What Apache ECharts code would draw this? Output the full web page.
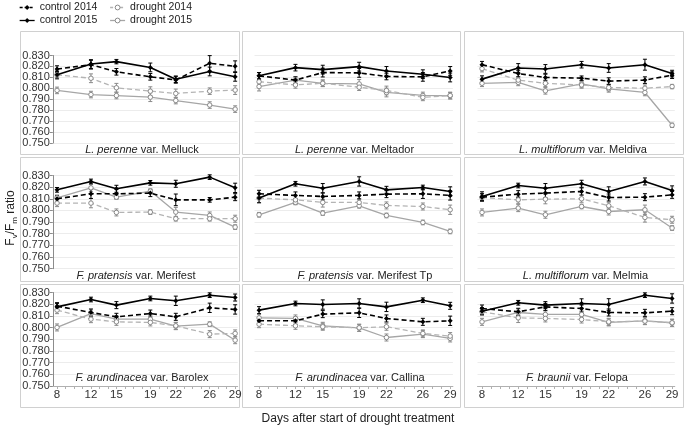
<!DOCTYPE html>
<html>
<head>
<meta charset="utf-8">
<script src="https://cdn.jsdelivr.net/npm/echarts@6/dist/echarts.min.js"></script>
<style>html,body{margin:0;padding:0;background:#fff}#c{width:685px;height:425px}</style>
</head>
<body>
<div id="c"></div>
<script>
// ---------- DATA ----------
const days = [8, 12, 15, 19, 22, 26, 29];
const xLabelDays = [8, 12, 15, 19, 22, 26, 29];
const xTickDays = [8, 9, 10, 11, 12, 13, 14, 15, 16, 17, 18, 19, 20, 21, 22, 23, 24, 25, 26, 27, 28, 29];
const seriesNames = ['control 2014', 'drought 2014', 'control 2015', 'drought 2015'];
const panelSpecies = ['L. perenne', 'L. perenne', 'L. multiflorum', 'F. pratensis', 'F. pratensis', 'L. multiflorum', 'F. arundinacea', 'F. arundinacea', 'F. braunii'];
const panelVarieties = ['Melluck', 'Meltador', 'Meldiva', 'Merifest', 'Merifest Tp', 'Melmia', 'Barolex', 'Callina', 'Felopa'];
const yTickLabels = ['0.750', '0.760', '0.770', '0.780', '0.790', '0.800', '0.810', '0.820', '0.830'];

// panels in order: Melluck, Meltador, Meldiva, Merifest, Merifest Tp, Melmia, Barolex, Callina, Felopa
const control2014 = [
  [0.8176, 0.8216, 0.8151, 0.8105, 0.8077, 0.8229, 0.8201],
  [0.8114, 0.8075, 0.8144, 0.8141, 0.8108, 0.8105, 0.8159],
  [0.8216, 0.8135, 0.8099, 0.8093, 0.8066, 0.8075, 0.8120],
  [0.8100, 0.8143, 0.8143, 0.8149, 0.8091, 0.8091, 0.8114],
  [0.8143, 0.8129, 0.8120, 0.8129, 0.8140, 0.8143, 0.8129],
  [0.8114, 0.8140, 0.8149, 0.8163, 0.8111, 0.8114, 0.8134],
  [0.8183, 0.8129, 0.8092, 0.8120, 0.8092, 0.8169, 0.8155],
  [0.8058, 0.8058, 0.8115, 0.8126, 0.8078, 0.8049, 0.8058],
  [0.8163, 0.8135, 0.8177, 0.8163, 0.8129, 0.8126, 0.8140]
];
const control2015 = [
  [0.8123, 0.8222, 0.8244, 0.8191, 0.8083, 0.8154, 0.8105],
  [0.8114, 0.8189, 0.8171, 0.8198, 0.8159, 0.8129, 0.8099],
  [0.8084, 0.8186, 0.8177, 0.8216, 0.8186, 0.8216, 0.8135],
  [0.8177, 0.8249, 0.8186, 0.8237, 0.8229, 0.8286, 0.8194],
  [0.8106, 0.8229, 0.8191, 0.8249, 0.8177, 0.8197, 0.8163],
  [0.8120, 0.8214, 0.8191, 0.8229, 0.8163, 0.8249, 0.8171],
  [0.8177, 0.8240, 0.8192, 0.8249, 0.8229, 0.8277, 0.8257],
  [0.8149, 0.8206, 0.8197, 0.8206, 0.8177, 0.8234, 0.8186],
  [0.8140, 0.8212, 0.8192, 0.8206, 0.8197, 0.8277, 0.8249]
];
const drought2014 = [
  [0.8123, 0.8092, 0.8005, 0.7974, 0.7953, 0.7974, 0.7984],
  [0.8060, 0.8031, 0.8046, 0.8010, 0.7980, 0.7917, 0.7935],
  [0.8180, 0.8075, 0.8046, 0.8031, 0.8007, 0.8001, 0.8016],
  [0.8063, 0.8063, 0.7983, 0.7986, 0.7929, 0.7929, 0.7929],
  [0.8106, 0.8091, 0.8069, 0.8069, 0.8043, 0.8034, 0.8006],
  [0.8111, 0.8091, 0.8097, 0.8100, 0.8040, 0.7940, 0.7920],
  [0.8149, 0.8072, 0.8049, 0.8044, 0.8015, 0.7944, 0.7950],
  [0.8029, 0.8015, 0.8007, 0.7998, 0.8007, 0.7950, 0.7927],
  [0.8135, 0.8083, 0.8078, 0.8069, 0.8049, 0.8055, 0.8041]
];
const drought2015 = [
  [0.7981, 0.7943, 0.7934, 0.7919, 0.7888, 0.7847, 0.7810],
  [0.8016, 0.8075, 0.8046, 0.8040, 0.7962, 0.7935, 0.7932],
  [0.8046, 0.8054, 0.7977, 0.8040, 0.7995, 0.7962, 0.7662],
  [0.8109, 0.8194, 0.8114, 0.8166, 0.7986, 0.7957, 0.7857],
  [0.7963, 0.8069, 0.7977, 0.8040, 0.7957, 0.7897, 0.7820],
  [0.7983, 0.8020, 0.7963, 0.8034, 0.7991, 0.8006, 0.7849],
  [0.8001, 0.8120, 0.8072, 0.8072, 0.8012, 0.8029, 0.7892],
  [0.8083, 0.8078, 0.8015, 0.7998, 0.7915, 0.7944, 0.7907],
  [0.8049, 0.8129, 0.8112, 0.8112, 0.8044, 0.8058, 0.8041]
];
// standard errors (estimated)
const control2014Err = [
  [0.003, 0.004, 0.003, 0.003, 0.003, 0.007, 0.005],
  [0.003, 0.003, 0.004, 0.004, 0.003, 0.004, 0.004],
  [0.003, 0.003, 0.003, 0.002, 0.003, 0.003, 0.003],
  [0.003, 0.004, 0.004, 0.003, 0.005, 0.002, 0.003],
  [0.003, 0.003, 0.003, 0.003, 0.003, 0.004, 0.004],
  [0.003, 0.003, 0.004, 0.003, 0.003, 0.003, 0.003],
  [0.003, 0.003, 0.003, 0.003, 0.003, 0.004, 0.004],
  [0.003, 0.003, 0.003, 0.004, 0.003, 0.003, 0.004],
  [0.003, 0.003, 0.003, 0.003, 0.003, 0.003, 0.003]
];
const control2015Err = [
  [0.003, 0.004, 0.002, 0.004, 0.003, 0.004, 0.004],
  [0.003, 0.003, 0.004, 0.004, 0.004, 0.004, 0.004],
  [0.003, 0.004, 0.004, 0.003, 0.004, 0.005, 0.003],
  [0.002, 0.002, 0.003, 0.002, 0.003, 0.002, 0.004],
  [0.004, 0.002, 0.004, 0.004, 0.003, 0.002, 0.004],
  [0.004, 0.002, 0.004, 0.003, 0.004, 0.003, 0.004],
  [0.003, 0.002, 0.003, 0.002, 0.004, 0.002, 0.003],
  [0.003, 0.002, 0.004, 0.004, 0.004, 0.002, 0.003],
  [0.003, 0.002, 0.003, 0.004, 0.005, 0.002, 0.004]
];
const drought2014Err = [
  [0.004, 0.004, 0.004, 0.004, 0.004, 0.003, 0.004],
  [0.003, 0.003, 0.003, 0.003, 0.004, 0.003, 0.003],
  [0.003, 0.003, 0.003, 0.003, 0.003, 0.003, 0.002],
  [0.003, 0.004, 0.003, 0.002, 0.002, 0.002, 0.003],
  [0.004, 0.004, 0.004, 0.003, 0.003, 0.003, 0.004],
  [0.003, 0.003, 0.004, 0.003, 0.003, 0.004, 0.003],
  [0.003, 0.003, 0.003, 0.003, 0.003, 0.003, 0.003],
  [0.003, 0.003, 0.003, 0.003, 0.003, 0.003, 0.003],
  [0.003, 0.004, 0.003, 0.003, 0.003, 0.003, 0.003]
];
const drought2015Err = [
  [0.003, 0.003, 0.003, 0.004, 0.003, 0.003, 0.003],
  [0.004, 0.003, 0.003, 0.004, 0.004, 0.003, 0.003],
  [0.003, 0.003, 0.003, 0.003, 0.003, 0.003, 0.002],
  [0.002, 0.003, 0.002, 0.002, 0.004, 0.003, 0.002],
  [0.002, 0.002, 0.002, 0.002, 0.002, 0.002, 0.002],
  [0.003, 0.003, 0.003, 0.002, 0.003, 0.004, 0.002],
  [0.003, 0.003, 0.003, 0.003, 0.003, 0.002, 0.003],
  [0.003, 0.003, 0.003, 0.003, 0.003, 0.003, 0.003],
  [0.003, 0.003, 0.003, 0.003, 0.003, 0.003, 0.003]
];

// ---------- LAYOUT ----------
const FONT = 'Liberation Sans, Arial, sans-serif';
const colBox = [{left: 52.8, width: 184.9}, {left: 254.5, width: 198.4}, {left: 477.5, width: 197.3}];
const rowBox = [{top: 55.5, height: 87.5}, {top: 175.5, height: 93.2}, {top: 292.5, height: 93.5}];
const frameX = [[20.5, 219], [242.5, 218], [464.5, 219]];
const frameY = [[31.5, 123], [157.5, 124], [284.5, 123]];
const titlePos = [[142, 150], [354.5, 150], [583, 150], [136, 275.5], [365, 276], [585.5, 276], [142, 378], [360, 378], [577, 378]];

const styles = {
  'control 2014': {color: '#000000', type: [5, 3], width: 1.6, symbol: 'diamond', size: 5, fill: '#000000', border: '#000000', err: '#000000'},
  'drought 2014': {color: '#b4b4b4', type: [5, 3], width: 1.3, symbol: 'circle', size: 4.5, fill: '#ffffff', border: '#8a8a8a', err: '#8a8a8a'},
  'control 2015': {color: '#000000', type: 'solid', width: 1.6, symbol: 'diamond', size: 5, fill: '#000000', border: '#000000', err: '#000000'},
  'drought 2015': {color: '#a6a6a6', type: 'solid', width: 1.3, symbol: 'circle', size: 4.5, fill: '#ffffff', border: '#8a8a8a', err: '#8a8a8a'}
};
const valueSets = {'control 2014': control2014, 'drought 2014': drought2014, 'control 2015': control2015, 'drought 2015': drought2015};
const errSets = {'control 2014': control2014Err, 'drought 2014': drought2014Err, 'control 2015': control2015Err, 'drought 2015': drought2015Err};

const grids = [], xAxes = [], yAxes = [], series = [], graphics = [];

function errRenderer(color) {
  return function (params, api) {
    const x = api.value(0), y = api.value(1), e = api.value(2);
    const hi = api.coord([x, y + e]), lo = api.coord([x, y - e]);
    const c = 2, st = {stroke: color, lineWidth: 1};
    return {type: 'group', children: [
      {type: 'line', shape: {x1: hi[0], y1: hi[1], x2: lo[0], y2: lo[1]}, style: st},
      {type: 'line', shape: {x1: hi[0] - c, y1: hi[1], x2: hi[0] + c, y2: hi[1]}, style: st},
      {type: 'line', shape: {x1: lo[0] - c, y1: lo[1], x2: lo[0] + c, y2: lo[1]}, style: st}
    ]};
  };
}

for (let p = 0; p < 9; p++) {
  const r = Math.floor(p / 3), c = p % 3;
  grids.push({left: colBox[c].left, width: colBox[c].width, top: rowBox[r].top, height: rowBox[r].height, containLabel: false});
  const bottomRow = r === 2;
  xAxes.push({
    type: 'value', gridIndex: p, min: 7.5, max: 29.3,
    axisLine: {show: bottomRow, lineStyle: {color: '#b0b0b0', width: 1}},
    axisTick: {show: bottomRow, customValues: xTickDays, length: 3, lineStyle: {color: '#b0b0b0'}},
    axisLabel: {show: bottomRow, customValues: xLabelDays, fontFamily: FONT, fontSize: 11.5, color: '#333', margin: 3},
    splitLine: {show: false}
  });
  yAxes.push({
    type: 'value', gridIndex: p, min: 0.75, max: 0.83, interval: 0.01,
    axisLine: {show: c === 0, lineStyle: {color: '#8c8c8c', width: 1}},
    axisTick: {show: c === 0, length: 3, lineStyle: {color: '#8c8c8c'}},
    axisLabel: {show: c === 0, fontFamily: FONT, fontSize: 11, color: '#333', margin: 3,
      formatter: function (v) { return yTickLabels[Math.round((v - 0.75) * 100)] || ''; }},
    splitLine: {show: true, lineStyle: {color: '#ececec', width: 1}}
  });
  ['drought 2015', 'drought 2014', 'control 2015', 'control 2014'].forEach(function (name, k) {
    const s = styles[name];
    const vals = valueSets[name][p], errs = errSets[name][p];
    series.push({
      type: 'custom', name: name + ' err', xAxisIndex: p, yAxisIndex: p, z: 1 + k, silent: true,
      renderItem: errRenderer(s.err),
      data: days.map(function (d, i) { return [d, vals[i], errs[i]]; })
    });
    series.push({
      type: 'line', name: name, xAxisIndex: p, yAxisIndex: p, z: 5 + k,
      data: days.map(function (d, i) { return [d, vals[i]]; }),
      symbol: s.symbol, symbolSize: s.size, showSymbol: true,
      lineStyle: {color: s.color, type: s.type, width: s.width},
      itemStyle: {color: s.fill, borderColor: s.border, borderWidth: s.symbol === 'circle' ? 1 : 0},
      emphasis: {disabled: true}, animation: false
    });
  });
  graphics.push({
    type: 'rect', z: 0, silent: true,
    shape: {x: frameX[c][0], y: frameY[r][0], width: frameX[c][1], height: frameY[r][1]},
    style: {fill: 'none', stroke: '#d0d0d0', lineWidth: 1}
  });
  graphics.push({
    type: 'text', z: 100, x: titlePos[p][0], y: titlePos[p][1],
    style: {
      text: '{i|' + panelSpecies[p] + '}{n| var. ' + panelVarieties[p] + '}',
      rich: {
        i: {fontStyle: 'italic', fontSize: 11, fontFamily: FONT, fill: '#222'},
        n: {fontSize: 11, fontFamily: FONT, fill: '#222'}
      },
      align: 'center', verticalAlign: 'middle'
    }
  });
}

graphics.push({
  type: 'text', x: 358, y: 418.5,
  style: {text: 'Days after start of drought treatment', font: '12px ' + FONT, fill: '#222', align: 'center', verticalAlign: 'middle'}
});
graphics.push({
  type: 'text', x: 11, y: 218, rotation: Math.PI / 2,
  style: {
    text: '{a|F}{b|v}{a|/F}{b|m}{a| ratio}',
    rich: {
      a: {fontSize: 12, fontFamily: FONT, fill: '#222', lineHeight: 16, verticalAlign: 'middle'},
      b: {fontSize: 8, fontFamily: FONT, fill: '#222', lineHeight: 8, verticalAlign: 'bottom'}
    },
    align: 'center', verticalAlign: 'middle'
  }
});

function legendItem(name) {
  const s = styles[name];
  return {
    name: name,
    itemStyle: {color: s.fill, borderColor: s.border, borderWidth: s.symbol === 'circle' ? 1 : 0},
    lineStyle: {color: s.color, type: s.type === 'solid' ? 'solid' : [3, 2], width: 1.3}
  };
}
const legendCommon = {
  left: 19, padding: 0, itemWidth: 15, itemHeight: 6, itemGap: 12, orient: 'horizontal',
  textStyle: {fontFamily: FONT, fontSize: 10.5, color: '#222'},
  selectedMode: false
};

const option = {
  backgroundColor: '#ffffff',
  animation: false,
  legend: [
    Object.assign({}, legendCommon, {top: 2, data: [legendItem('control 2014'), legendItem('drought 2014')]}),
    Object.assign({}, legendCommon, {top: 15, data: [legendItem('control 2015'), legendItem('drought 2015')]})
  ],
  grid: grids, xAxis: xAxes, yAxis: yAxes, series: series, graphic: graphics
};
const chart = echarts.init(document.getElementById('c'), null, {renderer: 'canvas'});
chart.setOption(option);
</script>
</body>
</html>
